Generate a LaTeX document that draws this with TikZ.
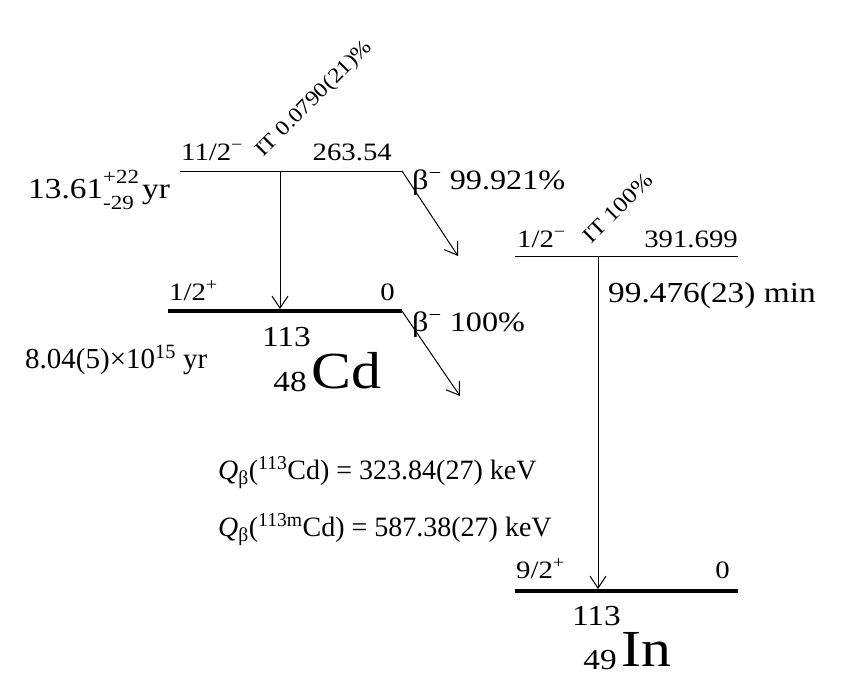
\documentclass[tikz,border=0pt]{standalone}
\usepackage{fontspec}
\setmainfont{Liberation Serif}[FakeStretch=1.15]
\newfontfamily\plainserif{Liberation Serif}
\usetikzlibrary{arrows.meta, positioning, calc}

\begin{document}
\begin{tikzpicture}[x=1pt, y=-1pt,
  level/.style={line width=1pt},
  gslevel/.style={line width=4pt},
  trans/.style={line width=1pt, -{Straight Barb[length=12pt, width=16pt, line width=1pt]}},
  lab/.style={font=\fontsize{25}{30}\selectfont, inner sep=0pt},
  itlab/.style={font=\fontsize{21}{25}\selectfont, inner sep=0pt, anchor=base west, rotate=45},
  life/.style={font=\fontsize{29}{34}\selectfont, inner sep=0pt},
  qval/.style={font=\plainserif\fontsize{28}{33}\selectfont, inner sep=0pt},
  mass/.style={font=\fontsize{29}{34}\selectfont, inner sep=0pt},
  elem/.style={font=\fontsize{52}{58}\selectfont, inner sep=0pt}]
  \useasboundingbox (0,0) rectangle (846,681);
  % 113mCd level
  \coordinate (cdmL) at (180,171);
  \coordinate (cdmR) at (402,171);
  \draw[level] (cdmL) -- (cdmR);
  \node[lab, anchor=base west] (cdmSpin) at (181,160) {11/2\textsuperscript{−}};
  \node[lab, anchor=base east] (cdmE) at (392,160) {263.54};
  \node[itlab] (cdmIT) at (263,158) {IT 0.0790(21)\%};
  \node[life, anchor=base west] (cdmLife) at (28,198)
    {13.61\rlap{\raisebox{0.5em}{\fontsize{20}{22}\selectfont +22}}\raisebox{-0.38em}{\fontsize{20}{22}\selectfont -29}\ yr};
  % 113Cd ground state
  \coordinate (cdgL) at (168,311);
  \coordinate (cdgR) at (402,311);
  \draw[gslevel] (cdgL) -- (cdgR);
  \node[lab, anchor=base west] (cdgSpin) at (169,300) {1/2\textsuperscript{+}};
  \node[lab, anchor=base east] (cdgE) at (395,300) {0};
  \node[qval, font=\plainserif\fontsize{29}{34}\selectfont, anchor=base west] (cdgLife) at (25,368) {8.04(5)×10\textsuperscript{15} yr};
  \node[elem, anchor=base west] (cdSym) at (311,388) {Cd};
  \node[mass, anchor=base east] (cdA) at (311,346) {113};
  \node[mass, anchor=base east] (cdZ) at (307,391) {48};
  % 113mIn level
  \coordinate (inmL) at (515,256);
  \coordinate (inmR) at (738,256);
  \draw[level] (inmL) -- (inmR);
  \node[lab, anchor=base west] (inmSpin) at (517,247) {1/2\textsuperscript{−}};
  \node[lab, anchor=base east] (inmE) at (738,247) {391.699};
  \node[itlab, font=\fontsize{22}{26}\selectfont] (inmIT) at (591,245) {IT 100\%};
  \node[life, anchor=base west] (inmLife) at (608,302) {99.476(23) min};
  % 113In ground state
  \coordinate (ingL) at (515,591);
  \coordinate (ingR) at (738,591);
  \draw[gslevel] (ingL) -- (ingR);
  \node[lab, anchor=base west] (ingSpin) at (516,578) {9/2\textsuperscript{+}};
  \node[lab, anchor=base east] (ingE) at (730,578) {0};
  \node[elem, anchor=base west] (inSym) at (621,666) {In};
  \node[mass, anchor=base east] (inA) at (621,625) {113};
  \node[mass, anchor=base east] (inZ) at (617,669) {49};
  % transitions
  \coordinate (cdmIT0) at (280,171);
  \coordinate (cdmIT1) at (280,309);
  \draw[trans] (cdmIT0) -- (cdmIT1);
  \coordinate (cdmB1) at (458,256);
  \draw[trans] (cdmR) -- (cdmB1);
  \node[life, font=\fontsize{28}{32}\selectfont, anchor=base west] (cdmBeta) at (412,189) {β\textsuperscript{−} 99.921\%};
  \coordinate (cdgB1) at (460,396);
  \draw[trans] (cdgR) -- (cdgB1);
  \node[life, font=\fontsize{28}{32}\selectfont, anchor=base west] (cdgBeta) at (412,331) {β\textsuperscript{−} 100\%};
  \coordinate (inmIT0) at (598,256);
  \coordinate (inmIT1) at (598,589);
  \draw[trans] (inmIT0) -- (inmIT1);
  % Q values
  \node[qval, anchor=base west] (qg) at (218,479) {\textit{Q}\textsubscript{β}(\textsuperscript{113}Cd) = 323.84(27) keV};
  \node[qval, anchor=base west] (qm) at (218,536) {\textit{Q}\textsubscript{β}(\textsuperscript{113m}Cd) = 587.38(27) keV};
\end{tikzpicture}
\end{document}
